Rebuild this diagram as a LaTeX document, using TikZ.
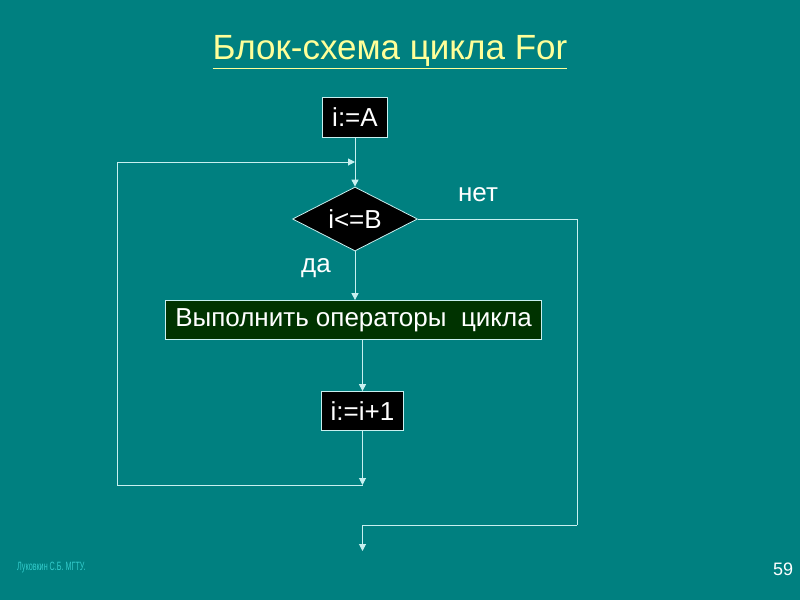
\documentclass[tikz,border=0pt]{standalone}
\usepackage{fontspec}
\setmainfont{Liberation Sans}
\usepackage{xcolor}
\usetikzlibrary{arrows.meta,positioning,shapes.geometric}

\definecolor{slideteal}{RGB}{0,128,128}
\definecolor{flowline}{RGB}{200,240,240}
\definecolor{titleyellow}{RGB}{255,255,153}
\definecolor{bodygreen}{RGB}{0,51,0}
\definecolor{footcyan}{RGB}{51,204,204}

\begin{document}
\begin{tikzpicture}[
    x=1pt, y=-1pt,
    blk/.style={draw=flowline, line width=0.8pt, fill=black, text=white, inner sep=0pt,
                font=\fontsize{26}{30}\selectfont},
    decide/.style={blk, diamond, aspect=2},
    flow/.style={draw=flowline, line width=1pt, -{Triangle[length=7pt,width=7pt]}},
    wire/.style={draw=flowline, line width=1pt},
    lbl/.style={text=white, font=\fontsize{26}{30}\selectfont}
  ]
    \fill[slideteal] (0,0) rectangle (800,600);
    \useasboundingbox (0,0) rectangle (800,600);

    \node[text=titleyellow, font=\fontsize{35}{40}\selectfont] (title) at (390,52)
      {\underline{Блок-схема цикла For}};

    \node[blk, minimum width=65pt, minimum height=40pt] (init) at (355,117) {i:=A};
    \node[decide, minimum width=125pt, minimum height=64pt] (cond) at (355,219) {i<=B};
    \node[blk, fill=bodygreen, minimum width=376pt, minimum height=39pt] (body) at (353.5,320)
      {Выполнить операторы\ \ цикла};
    \node[blk, minimum width=82pt, minimum height=39pt] (incr) at (362.5,411) {i:=i+1};

    \node[lbl] (no) at (478,195) {нет};
    \node[lbl] (yes) at (316,268) {да};

    \coordinate (back) at (362.5,485);
    \coordinate (loopin) at (355,162);
    \coordinate (exitc) at (577,525);
    \coordinate (out) at (362.5,551);

    \draw[flow] (init) -- (cond);
    \draw[flow] (cond.south) -- (cond.south |- body.north);
    \draw[flow] (incr.north |- body.south) -- (incr.north);
    \draw[flow] (incr) -- (back);
    \draw[flow] (back) -- (117,485) -- (117,162) -- (loopin);
    \draw[wire] (cond.east) -| (exitc);
    \draw[flow] (exitc) -- (exitc -| out) -- (out);

    \node[text=footcyan, font=\fontsize{12}{14}\selectfont, xscale=0.6, transform shape,
          anchor=west] (author) at (15,568) {Луковкин С.Б. МГТУ.};
    \node[text=white, font=\fontsize{18}{20}\selectfont] (page) at (783,569) {59};
  \end{tikzpicture}
\end{document}
